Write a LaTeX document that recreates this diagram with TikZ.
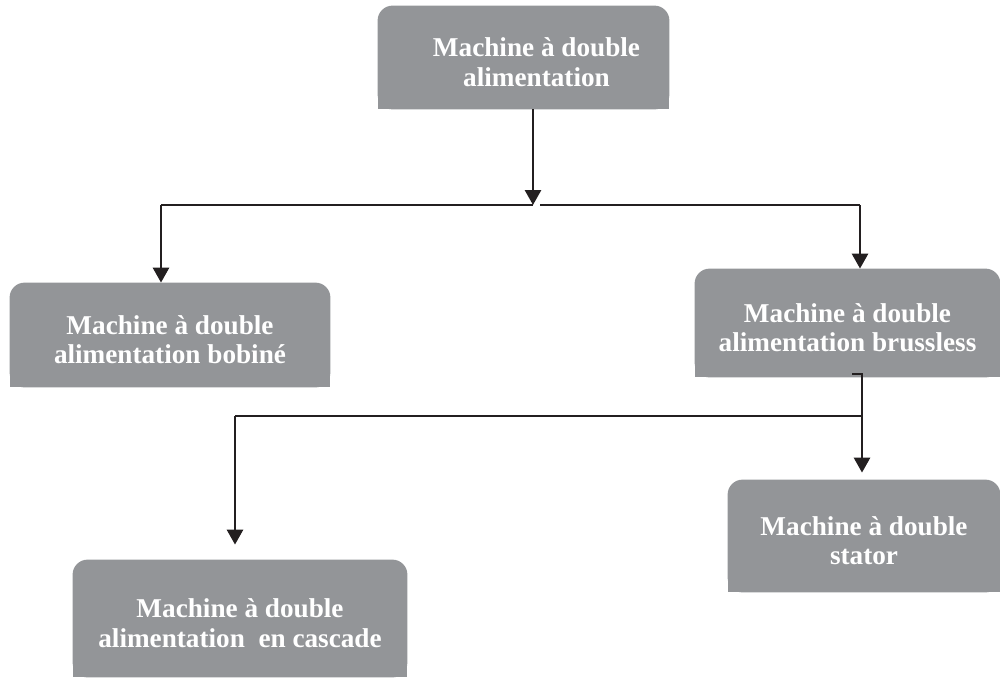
\documentclass[tikz,border=0pt]{standalone}
\usepackage{fontspec}
\setmainfont{Liberation Serif}
\usetikzlibrary{arrows.meta,backgrounds}
\definecolor{boxgray}{RGB}{147,149,152}
\definecolor{linecol}{RGB}{35,31,32}
\newcommand{\tstrut}{\rule{0pt}{14pt}}
\begin{document}
\begin{tikzpicture}[x=0.5pt,y=-0.5pt,
  box/.style={inner sep=0pt, text=white, font=\bfseries\fontsize{13.6}{14.8}\selectfont, align=center},
  arr/.style={draw=linecol, line width=1.4pt, -{Triangle[length=7.5pt,width=8pt]}},
  ln/.style={draw=linecol, line width=1.4pt}]
\useasboundingbox (0,0) rectangle (1000,677);

\node[box, minimum width=145.5pt, minimum height=51.5pt] (ntop) at (523.5,57.5) {\hspace*{13pt}\tstrut Machine à double\\\hspace*{13pt}alimentation};
\node[box, minimum width=160pt, minimum height=52pt] (nl) at (170,335) {\tstrut Machine à double\\alimentation bobiné};
\node[box, minimum width=152.5pt, minimum height=54pt] (nr) at (847.5,323) {\tstrut Machine à double\\alimentation brussless};
\node[box, minimum width=136pt, minimum height=56pt] (nbr) at (864,536) {\tstrut Machine à double\\stator};
\node[box, minimum width=167pt, minimum height=58.5pt] (nbl) at (240,618.5) {\tstrut Machine à double\\alimentation~ en cascade};

\begin{scope}[on background layer]
\foreach \n in {ntop,nl,nr,nbr,nbl}{
  \fill[boxgray, rounded corners=7.5pt] (\n.south west) rectangle (\n.north east);
  \fill[boxgray] (\n.south west) rectangle (\n.east);
}
\end{scope}

\coordinate (j1) at (533,205);
\coordinate (hl) at (161,205);
\coordinate (hr) at (860,205);
\draw[arr] (ntop.south -| j1) -- (j1);
\draw[ln] (hl) -- (j1);
\draw[ln] ([xshift=3.5pt]j1) -- (hr);
\draw[arr] (hl) -- (hl |- nl.north);
\draw[arr] (hr) -- (hr |- nr.north);

\coordinate (s1) at (852,374);
\coordinate (j2) at (862,416);
\coordinate (j3) at (235,416);
\draw[arr] (s1) -| ([yshift=3.5pt]j2 |- nbr.north);
\draw[ln] (j2) -- (j3);
\draw[arr] (j3) -- ([yshift=7.5pt]j3 |- nbl.north);
\end{tikzpicture}
\end{document}
